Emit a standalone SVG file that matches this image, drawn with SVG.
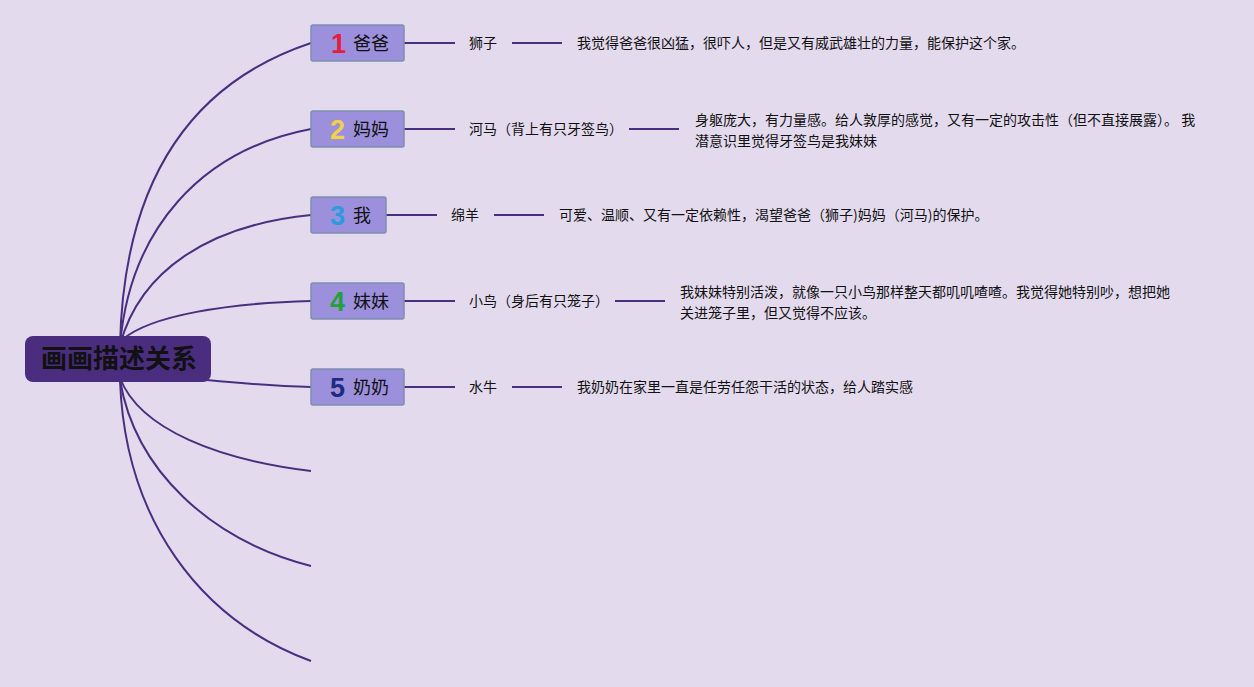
<svg xmlns="http://www.w3.org/2000/svg" width="1254" height="687" viewBox="0 0 1254 687">
<style>
.c{fill:none;stroke:#4a2f80;stroke-width:2}
.n{fill:#9c90dc;stroke:#7d8fae;stroke-width:1.5}
.t{font-family:"Noto Sans CJK SC","Noto Sans",sans-serif;fill:#111}
.nt{font-size:18px}
.num{font-family:"Liberation Sans",Arial,sans-serif;font-weight:bold;font-size:27px}
.lb{font-size:14px}
</style>
<rect width="1254" height="687" fill="#e3daee"/>
<g id="connectors">
<path class="c" d="M120,345 C124,170 200,80 311,43"/>
<path class="c" d="M120,345 C130,230 200,150 311,129"/>
<path class="c" d="M120,345 C140,270 210,225 311,215"/>
<path class="c" d="M122,340 C150,315 230,303 311,301"/>
<path class="c" d="M150,374 C220,382 270,386 311,387"/>
<path class="c" d="M120,378 C140,430 220,460 311,471"/>
<path class="c" d="M120,380 C135,470 210,540 311,566"/>
<path class="c" d="M120,380 C125,520 200,620 311,661"/>
<path class="c" d="M404,43H455M512,43H562"/>
<path class="c" d="M404,129H455M629,129H679"/>
<path class="c" d="M386,215H437M494,215H544"/>
<path class="c" d="M404,301H455M615,301H665"/>
<path class="c" d="M404,387H455M512,387H562"/>
</g>
<g id="root">
<rect x="25" y="336" width="186" height="46" rx="8" fill="#4b2d80"/>
<text x="119" y="368" text-anchor="middle" class="t" font-size="26" font-weight="bold" fill="#000">画画描述关系</text>
</g>
<g id="node1">
<rect class="n" x="311" y="25" width="93" height="36" rx="2"/>
<text x="331" y="53" class="num" fill="#e2203c">1</text>
<text x="353" y="50" class="t nt">爸爸</text>
</g>
<g id="node2">
<rect class="n" x="311" y="111" width="93" height="36" rx="2"/>
<text x="330" y="139" class="num" fill="#f0d24a">2</text>
<text x="353" y="136" class="t nt">妈妈</text>
</g>
<g id="node3">
<rect class="n" x="311" y="197" width="75" height="36" rx="2"/>
<text x="330" y="225" class="num" fill="#2a9be0">3</text>
<text x="353" y="222" class="t nt">我</text>
</g>
<g id="node4">
<rect class="n" x="311" y="283" width="93" height="36" rx="2"/>
<text x="330" y="311" class="num" fill="#23a03a">4</text>
<text x="353" y="308" class="t nt">妹妹</text>
</g>
<g id="node5">
<rect class="n" x="311" y="369" width="93" height="36" rx="2"/>
<text x="330" y="397" class="num" fill="#1f2a82">5</text>
<text x="353" y="394" class="t nt">奶奶</text>
</g>
<g id="labels" class="t lb">
<text x="469" y="48">狮子</text>
<text x="577" y="48">我觉得爸爸很凶猛，很吓人，但是又有威武雄壮的力量，能保护这个家。</text>
<text x="469" y="134">河马（背上有只牙签鸟）</text>
<text x="695" y="125">身躯庞大，有力量感。给人敦厚的感觉，又有一定的攻击性（但不直接展露）。 我</text>
<text x="695" y="146">潜意识里觉得牙签鸟是我妹妹</text>
<text x="451" y="220">绵羊</text>
<text x="559" y="220">可爱、温顺、又有一定依赖性，渴望爸爸（狮子)妈妈（河马)的保护。</text>
<text x="469" y="306">小鸟（身后有只笼子）</text>
<text x="680" y="297">我妹妹特别活泼，就像一只小鸟那样整天都叽叽喳喳。我觉得她特别吵，想把她</text>
<text x="680" y="318">关进笼子里，但又觉得不应该。</text>
<text x="469" y="392">水牛</text>
<text x="577" y="392">我奶奶在家里一直是任劳任怨干活的状态，给人踏实感</text>
</g>
</svg>
